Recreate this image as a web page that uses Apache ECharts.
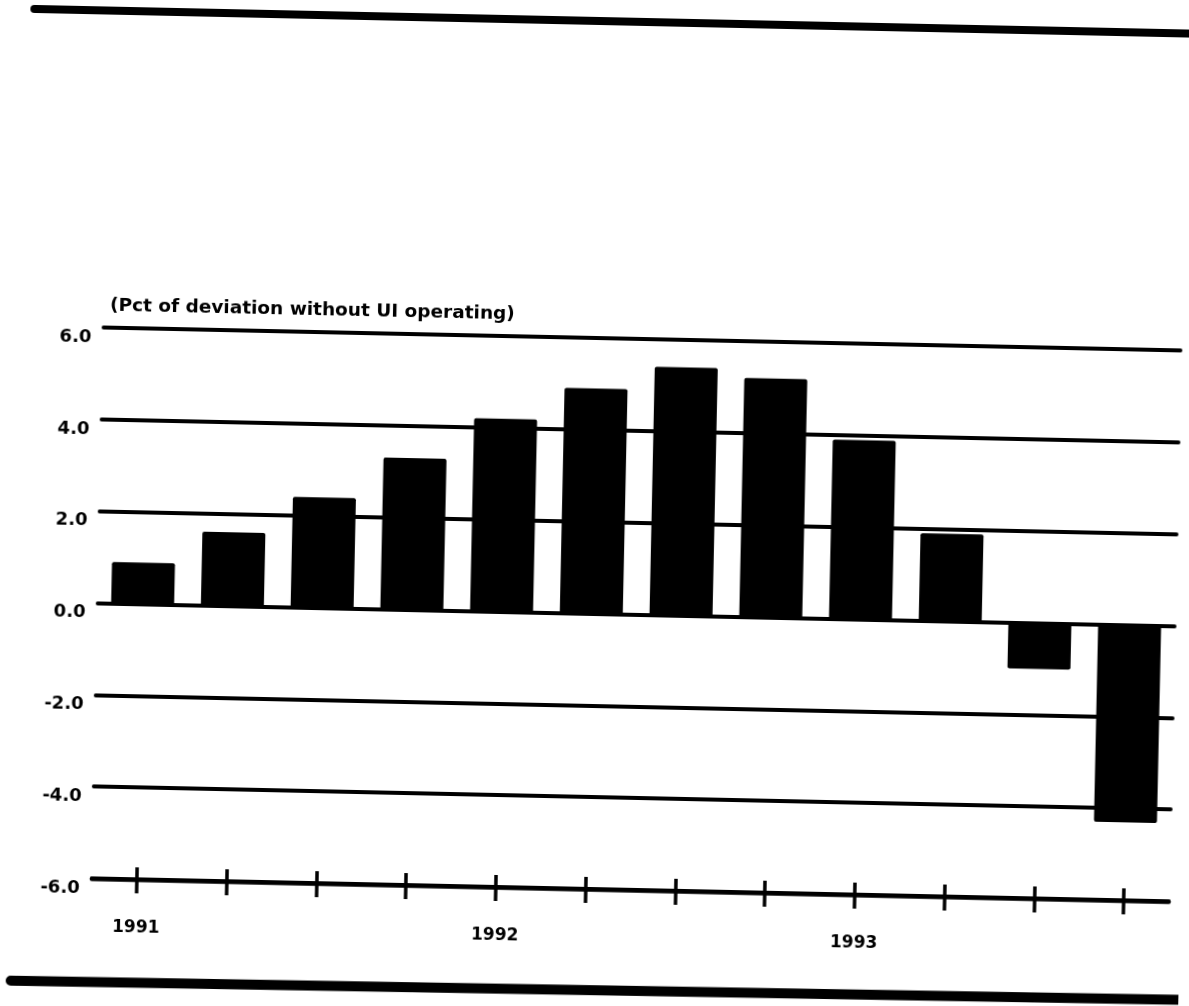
<!DOCTYPE html>
<html>
<head>
<meta charset="utf-8">
<script src="https://cdn.jsdelivr.net/npm/echarts@6/dist/echarts.min.js"></script>
<style>
    html, body { margin: 0; padding: 0; background: #fff; overflow: hidden; }
    /* the scanned original sits slightly skewed on the page */
    #chartdiv { width: 1189px; height: 1006px; transform: rotate(1.22deg); transform-origin: 594.5px 503px; }
</style>
</head>
<body>
<div id="chartdiv"></div>
<script>
var quarters = ['1991 Q1', '1991 Q2', '1991 Q3', '1991 Q4',
                '1992 Q1', '1992 Q2', '1992 Q3', '1992 Q4',
                '1993 Q1', '1993 Q2', '1993 Q3', '1993 Q4'];
var yearLabels = ['1991', '', '', '', '1992', '', '', '', '1993', '', '', ''];
// Pct of deviation without UI operating
var deviation = [0.9, 1.6, 2.4, 3.3, 4.2, 4.9, 5.4, 5.2, 3.9, 1.9, -1.0, -4.3];

var font = 'DejaVu Sans';

var options = {
    animation: false,
    title: {
        text: '(Pct of deviation without UI operating)',
        left: 106,
        top: 306,
        padding: 0,
        textStyle: {
            fontFamily: font,
            fontWeight: 'bold',
            fontSize: 18.5,
            lineHeight: 20,
            color: '#000'
        }
    },
    grid: {
        left: 100,
        right: 12,
        top: 338,
        bottom: 117,
        containLabel: false
    },
    xAxis: [
        {
            type: 'category',
            data: quarters,
            axisLine: {
                show: true,
                onZero: false,
                lineStyle: { color: '#000', width: 4.5, cap: 'round' }
            },
            axisTick: {
                show: true,
                alignWithLabel: true,
                interval: 0,
                length: 14,
                lineStyle: { color: '#000', width: 3.5 }
            },
            axisLabel: {
                interval: 0,
                margin: 40,
                fontFamily: font,
                fontWeight: 'bold',
                fontSize: 17,
                color: '#000',
                formatter: function(v, i) { return yearLabels[i]; }
            },
            splitLine: { show: false }
        },
        {
            // upper half of the crossing ticks
            type: 'category',
            data: quarters,
            position: 'bottom',
            axisLine: { show: false, onZero: false },
            axisTick: {
                show: true,
                inside: true,
                alignWithLabel: true,
                interval: 0,
                length: 12,
                lineStyle: { color: '#000', width: 3.5 }
            },
            axisLabel: { show: false },
            splitLine: { show: false }
        }
    ],
    yAxis: {
        type: 'value',
        min: -6,
        max: 6,
        interval: 2,
        axisLine: { show: false },
        axisTick: { show: false },
        axisLabel: {
            margin: 12,
            verticalAlign: 'top',
            lineHeight: 20,
            fontFamily: font,
            fontWeight: 'bold',
            fontSize: 18,
            color: '#000',
            formatter: function(v) { return v.toFixed(1); }
        },
        splitLine: {
            lineStyle: { color: '#000', width: 4, cap: 'round' }
        }
    },
    graphic: [
        {
            type: 'line',
            shape: { x1: 24, y1: 21, x2: 1215, y2: 21 },
            style: { stroke: '#000', lineWidth: 8, lineCap: 'round' }
        },
        {
            type: 'line',
            shape: { x1: 21, y1: 993, x2: 1215, y2: 987 },
            style: { stroke: '#000', lineWidth: 10, lineCap: 'round' }
        }
    ],
    series: [
        {
            name: 'Deviation',
            type: 'bar',
            data: deviation,
            barWidth: 63,
            itemStyle: { color: '#000', borderRadius: 2 }
        }
    ]
};

var chartDom = document.getElementById('chartdiv');
var plot = echarts.init(chartDom);
plot.setOption(options);
</script>
</body>
</html>
